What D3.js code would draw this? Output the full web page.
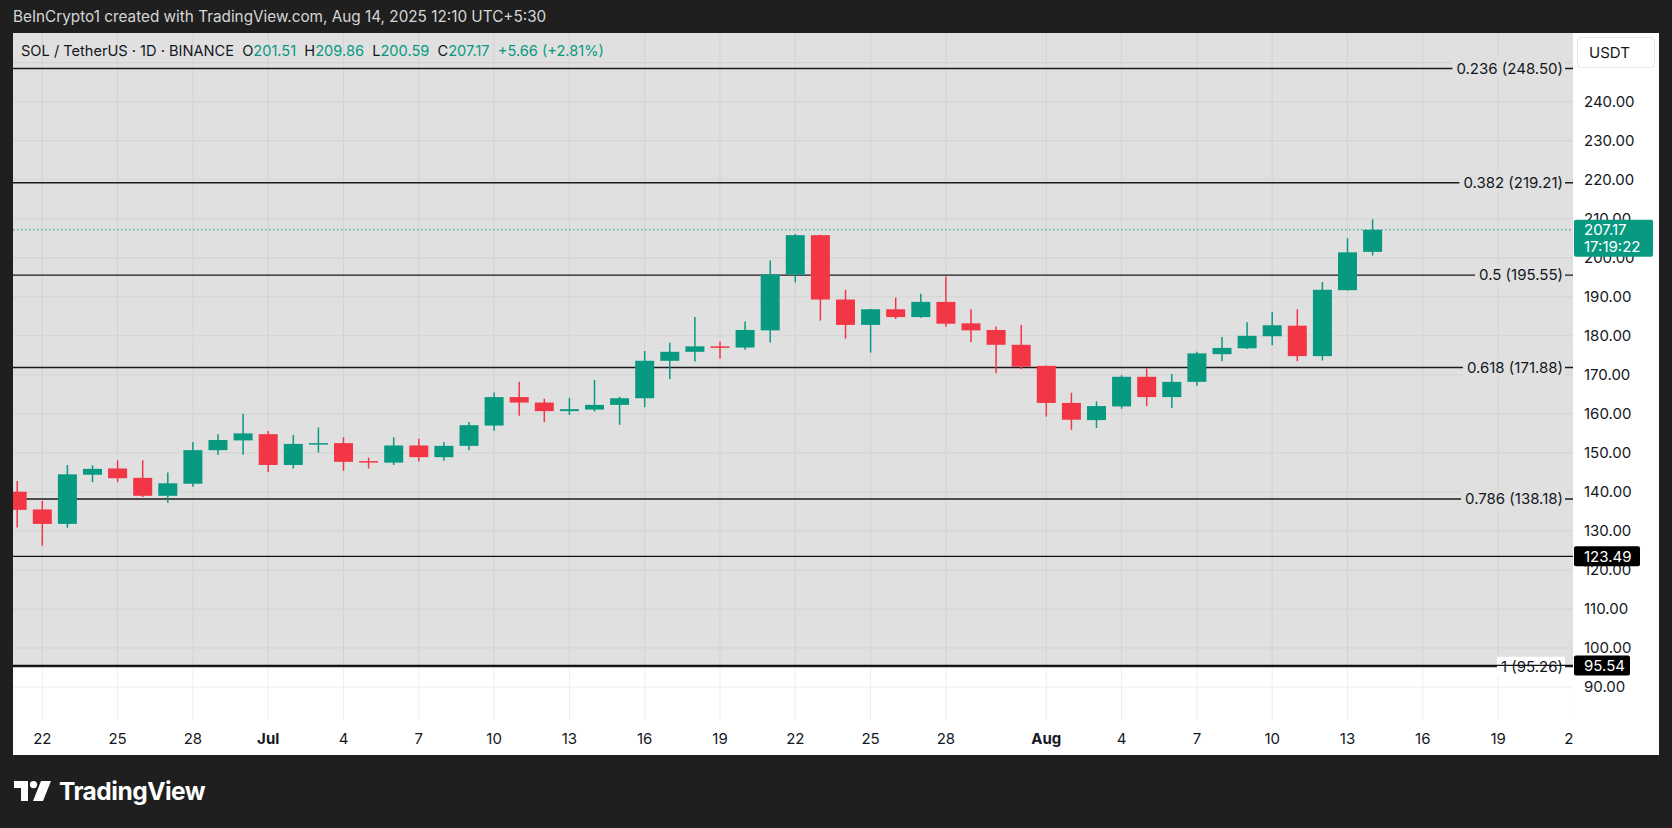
<!DOCTYPE html>
<html><head><meta charset="utf-8">
<script src="https://cdn.jsdelivr.net/npm/d3@7"></script>
<style>
html,body{margin:0;padding:0;background:#1f1f1f;}
svg{display:block;}
</style></head>
<body>
<svg id="c" width="1672" height="828"></svg>
<script>
// ---- data ----
const dates = ["2025-06-21","2025-06-22","2025-06-23","2025-06-24","2025-06-25","2025-06-26","2025-06-27","2025-06-28","2025-06-29","2025-06-30",
"2025-07-01","2025-07-02","2025-07-03","2025-07-04","2025-07-05","2025-07-06","2025-07-07","2025-07-08","2025-07-09","2025-07-10",
"2025-07-11","2025-07-12","2025-07-13","2025-07-14","2025-07-15","2025-07-16","2025-07-17","2025-07-18","2025-07-19","2025-07-20",
"2025-07-21","2025-07-22","2025-07-23","2025-07-24","2025-07-25","2025-07-26","2025-07-27","2025-07-28","2025-07-29","2025-07-30",
"2025-07-31","2025-08-01","2025-08-02","2025-08-03","2025-08-04","2025-08-05","2025-08-06","2025-08-07","2025-08-08","2025-08-09",
"2025-08-10","2025-08-11","2025-08-12","2025-08-13","2025-08-14"];
const opens  = [140.05,135.5,131.8,144.4,146.0,143.6,139.0,142.1,150.7,153.2, 154.8,146.9,152.3,152.5,147.9,147.5,151.9,148.9,151.8,157.0,
 164.3,162.9,160.7,161.1,162.3,164.0,173.6,175.9,177.3,177.0, 181.4,195.7,205.8,189.3,182.8,186.8,184.8,188.7,183.2,181.5,
 177.7,172.3,162.8,158.4,161.9,169.5,164.3,168.2,175.3,176.8, 179.9,182.6,174.8,191.7,201.51];
const highs  = [142.8,137.7,146.9,146.8,148.1,148.1,145.0,152.8,154.8,160.0, 155.6,154.6,156.5,154.0,148.8,154.0,153.6,152.8,157.9,165.5,
 168.2,163.9,164.1,168.7,164.4,176.1,178.2,184.8,178.5,183.7, 199.3,206.1,205.9,191.8,186.9,189.8,190.8,195.2,186.8,182.4,
 182.8,172.4,165.4,163.2,169.9,171.7,170.2,175.9,179.7,183.5, 186.1,186.8,193.8,205.0,209.86];
const lows   = [130.9,126.2,130.8,142.5,142.5,138.7,137.2,141.3,149.5,149.5, 145.1,146.0,150.1,145.4,146.0,146.9,147.8,148.0,150.7,155.7,
 159.5,157.9,159.7,160.6,157.2,161.7,168.9,173.4,174.1,176.4, 178.3,193.7,183.9,179.3,175.7,184.3,184.6,182.3,178.4,170.4,
 171.5,159.3,155.9,156.4,161.3,162.0,161.5,167.2,173.5,176.6, 177.6,173.5,173.7,191.6,200.59];
const closes = [135.4,131.8,144.5,145.9,143.5,139.0,142.2,150.7,153.3,155.0, 146.9,152.3,152.5,147.7,147.7,151.9,148.9,151.8,157.1,164.3,
 162.9,160.7,161.2,162.3,164.0,173.6,175.9,177.3,177.0,181.5, 195.7,205.8,189.3,182.8,186.8,184.8,188.7,183.1,181.4,177.7,
 172.1,162.8,158.5,162.0,169.5,164.3,168.2,175.5,176.9,180.0, 182.7,174.8,191.8,201.4,207.17];

const fibLevels = [0.236,0.382,0.5,0.618,0.786,1];
const fibPrices = [248.50,219.21,195.55,171.88,138.18,95.26];
const hLinePrices = [123.49,95.54];
const lastPrice = 207.17;
const countdown = "17:19:22";
const yTicks = [90,100,110,120,130,140,150,160,170,180,190,200,210,220,230,240];
const gridPrices = [90,100,110,120,130,140,150,160,170,180,190,200,210,220,230,240,250];
const xTickDates = ["2025-06-22","2025-06-25","2025-06-28","2025-07-01","2025-07-04","2025-07-07","2025-07-10","2025-07-13","2025-07-16","2025-07-19","2025-07-22","2025-07-25","2025-07-28","2025-08-01","2025-08-04","2025-08-07","2025-08-10","2025-08-13","2025-08-16","2025-08-19","2025-08-22"];
const headerParts = [["SOL / TetherUS · 1D · BINANCE  ","#131722"],["O","#131722"],["201.51  ","#089981"],["H","#131722"],["209.86  ","#089981"],["L","#131722"],["200.59  ","#089981"],["C","#131722"],["207.17  ","#089981"],["+5.66 (+2.81%)","#089981"]];

// ---- layout ----
const FONT = "Inter, 'Noto Sans', sans-serif";
const panel = {x0:13, x1:1659, y0:33, y1:755};
const plot = {x0:13, x1:1573, y0:33, y1:720};
const UP = "#089981", DOWN = "#f23645";
const GRAY = "#e0e0e0";
const FS = 15;

const parse = d3.utcParse("%Y-%m-%d");
const x = d3.scaleUtc().domain([parse("2025-06-22"), parse("2025-08-13")]).range([42.3, 1347.5]);
const y = d3.scaleLinear().domain([90, 240]).range([687, 101.7]);
const candleW = 19;

const svg = d3.select("#c");

// top caption
svg.append("text").attr("x",13).attr("y",17).attr("dy","0.35em")
  .attr("font-family",FONT).attr("font-size",15.3).attr("fill","#d6d6d6")
  .text("BeInCrypto1 created with TradingView.com, Aug 14, 2025 12:10 UTC+5:30");

// panel
svg.append("rect").attr("x",panel.x0).attr("y",panel.y0).attr("width",panel.x1-panel.x0).attr("height",panel.y1-panel.y0).attr("fill","#ffffff");

svg.append("defs").append("clipPath").attr("id","plotclip").append("rect")
  .attr("x",plot.x0).attr("y",plot.y0).attr("width",plot.x1-plot.x0).attr("height",plot.y1-plot.y0);
svg.select("defs").append("clipPath").attr("id","xlabclip").append("rect")
  .attr("x",plot.x0).attr("y",plot.y1).attr("width",plot.x1-plot.x0).attr("height",panel.y1-plot.y1);

const g = svg.append("g").attr("clip-path","url(#plotclip)");

// gray zone (above bottom horizontal line)
const grayBottom = y(hLinePrices[1]);
g.append("rect").attr("x",plot.x0).attr("y",plot.y0).attr("width",plot.x1-plot.x0).attr("height",grayBottom-plot.y0).attr("fill",GRAY);

// grid
gridPrices.forEach(p=>{
  const yy = y(p);
  g.append("line").attr("x1",plot.x0).attr("x2",plot.x1).attr("y1",yy).attr("y2",yy)
    .attr("stroke", yy<grayBottom ? "#d3d3d3" : "#eeeeee").attr("stroke-width",1);
});
xTickDates.forEach(ds=>{
  const xx = x(parse(ds));
  g.append("line").attr("x1",xx).attr("x2",xx).attr("y1",plot.y0).attr("y2",grayBottom).attr("stroke","#d3d3d3");
  g.append("line").attr("x1",xx).attr("x2",xx).attr("y1",grayBottom).attr("y2",plot.y1).attr("stroke","#eeeeee");
});

// fib lines
fibLevels.forEach((lv,i)=>{
  const yy = y(fibPrices[i]);
  g.append("line").attr("x1",plot.x0).attr("x2",plot.x1).attr("y1",yy).attr("y2",yy)
    .attr("stroke","#1b1b1b").attr("stroke-width",1.4);
  const t = g.append("text").attr("x",1563).attr("y",yy).attr("dy","0.35em").attr("text-anchor","end")
    .attr("font-family",FONT).attr("font-size",FS).attr("fill","#131722")
    .text(lv + " (" + fibPrices[i].toFixed(2) + ")");
  const bb = t.node().getBBox();
  g.insert("rect", function(){return t.node();}).attr("x",bb.x-4).attr("y",bb.y).attr("width",bb.width+6).attr("height",bb.height)
    .attr("fill", lv===1 ? "#ffffff" : GRAY);
});

// horizontal lines
g.append("line").attr("x1",plot.x0).attr("x2",plot.x1).attr("y1",y(hLinePrices[0])).attr("y2",y(hLinePrices[0]))
  .attr("stroke","#111").attr("stroke-width",1.2);
g.append("line").attr("x1",plot.x0).attr("x2",plot.x1).attr("y1",y(hLinePrices[1])).attr("y2",y(hLinePrices[1]))
  .attr("stroke","#111").attr("stroke-width",1.4);

// last price dotted line
g.append("line").attr("x1",plot.x0).attr("x2",plot.x1).attr("y1",y(lastPrice)).attr("y2",y(lastPrice))
  .attr("stroke",UP).attr("stroke-width",1).attr("stroke-dasharray","1.5,2.5");

// candles
const data = dates.map((d,i)=>({date:parse(d),o:opens[i],h:highs[i],l:lows[i],c:closes[i]}));
const cg = g.append("g");
data.forEach(d=>{
  const col = d.c>=d.o ? UP : DOWN;
  const xx = x(d.date);
  cg.append("line").attr("x1",xx).attr("x2",xx).attr("y1",y(d.h)).attr("y2",y(d.l)).attr("stroke",col).attr("stroke-width",1.5);
  const top = y(Math.max(d.o,d.c)), bot = y(Math.min(d.o,d.c));
  cg.append("rect").attr("x",xx-candleW/2).attr("y",top).attr("width",candleW).attr("height",Math.max(1.5,bot-top)).attr("fill",col);
});

// x axis labels
const xl = svg.append("g").attr("clip-path","url(#xlabclip)");
const fmtDay = d3.utcFormat("%-d"), fmtMon = d3.utcFormat("%b");
xTickDates.forEach(ds=>{
  const dt = parse(ds);
  const isMonth = dt.getUTCDate()===1;
  xl.append("text").attr("x",x(dt)).attr("y",739).attr("dy","0.35em").attr("text-anchor","middle")
    .attr("font-family",FONT).attr("font-size",FS).attr("font-weight",isMonth?700:400).attr("fill","#131722")
    .text(isMonth ? fmtMon(dt) : fmtDay(dt));
});

// y axis labels
yTicks.forEach(p=>{
  svg.append("text").attr("x",1584).attr("y",y(p)).attr("dy","0.35em")
    .attr("font-family",FONT).attr("font-size",FS).attr("fill","#131722").text(p.toFixed(2));
});

// USDT box
svg.append("rect").attr("x",1577.5).attr("y",37.5).attr("width",77).attr("height",30).attr("rx",4)
  .attr("fill","#fff").attr("stroke","#e6e6e6");
svg.append("text").attr("x",1589).attr("y",53).attr("dy","0.35em").attr("font-family",FONT).attr("font-size",FS).attr("fill","#131722").text("USDT");

// price labels
svg.append("rect").attr("x",1574).attr("y",y(lastPrice)-10).attr("width",79).attr("height",37).attr("rx",2).attr("fill",UP);
svg.append("text").attr("x",1584).attr("y",y(lastPrice)).attr("dy","0.35em").attr("font-family",FONT).attr("font-size",FS).attr("fill","#fff").text(lastPrice.toFixed(2));
svg.append("text").attr("x",1584).attr("y",y(lastPrice)+17).attr("dy","0.35em").attr("font-family",FONT).attr("font-size",FS).attr("fill","#fff").text(countdown);

const boxW = [66,56];
hLinePrices.forEach((p,i)=>{
  svg.append("rect").attr("x",1574).attr("y",y(p)-10).attr("width",boxW[i]).attr("height",20).attr("rx",2).attr("fill","#000");
  svg.append("text").attr("x",1584).attr("y",y(p)).attr("dy","0.35em").attr("font-family",FONT).attr("font-size",FS).attr("fill","#fff").text(p.toFixed(2));
});

// header
const ht = svg.append("text").attr("x",21).attr("y",51).attr("dy","0.35em").attr("font-family",FONT).attr("font-size",14.6).attr("style","white-space:pre");
headerParts.forEach(([s,c])=>{ ht.append("tspan").attr("fill",c).text(s); });

// TradingView logo
const lg = svg.append("g").attr("transform","translate(14,781)").attr("fill","#ffffff");
lg.append("path").attr("d","M0,0 H14 V20 H7 V7 H0 Z");
lg.append("circle").attr("cx",19.5).attr("cy",3.6).attr("r",3.6);
lg.append("path").attr("d","M27,0 H37 L29,20 H19 Z");
svg.append("text").attr("x",59).attr("y",791).attr("dy","0.35em").attr("font-family",FONT).attr("font-size",24.5).attr("font-weight",700).attr("fill","#ffffff").attr("letter-spacing",-0.5).text("TradingView");
</script>
</body></html>
